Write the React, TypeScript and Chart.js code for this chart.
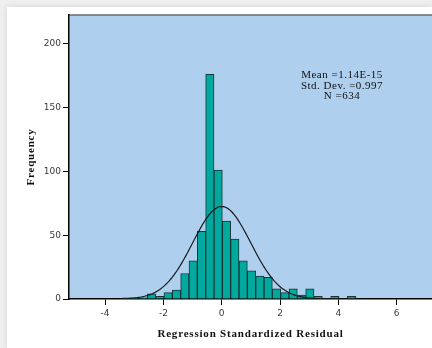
import React, { useEffect, useRef } from "react";
import { Chart, registerables } from "chart.js";

Chart.register(...registerables);

// Histogram bins (centres of bins, width ~0.2857) and counts
const binCenters = [
  -3.264, -2.979, -2.693, -2.407, -2.121, -1.836, -1.55, -1.264, -0.979, -0.693,
  -0.407, -0.121, 0.164, 0.45, 0.736, 1.021, 1.307, 1.593, 1.879, 2.164,
  2.45, 2.736, 3.021, 3.307, 3.593, 3.879, 4.164, 4.45,
];
const frequencies = [
  1, 1, 1, 4, 2, 5, 7, 20, 30, 53,
  176, 101, 61, 47, 30, 22, 18, 17, 8, 5,
  8, 3, 8, 2, 0, 2, 0, 2,
];

const BIN_WIDTH = 0.2857;
const MEAN = 1.14e-15;
const SD = 0.997;
const N = 634;

const xTicks = [-4, -2, 0, 2, 4, 6];
const yTicks = [0, 50, 100, 150, 200];
const X_MIN = -5.235;
const X_MAX = 7.209;
const Y_MAX = 222.5;

const statsLines = ["Mean =1.14E-15", "Std. Dev. =0.997", "N =634"];
const xTitle = "Regression Standardized Residual";
const yTitle = "Frequency";

// Normal curve derived from the stated mean / sd / N and bin width
const curveRange = [-3.45, 4.6];
function normalCurve() {
  const pts: { x: number; y: number }[] = [];
  const steps = 200;
  for (let i = 0; i <= steps; i++) {
    const x = curveRange[0] + ((curveRange[1] - curveRange[0]) * i) / steps;
    const z = (x - MEAN) / SD;
    const y = (N * BIN_WIDTH) / (SD * Math.sqrt(2 * Math.PI)) * Math.exp(-0.5 * z * z);
    pts.push({ x, y });
  }
  return pts;
}

const bgPlugin = {
  id: "plotBg",
  beforeDraw(chart: any) {
    const { ctx, chartArea } = chart;
    ctx.save();
    ctx.fillStyle = "rgb(174,207,237)";
    ctx.fillRect(chartArea.left, chartArea.top, chartArea.right - chartArea.left, chartArea.bottom - chartArea.top);
    ctx.strokeStyle = "#6b6b6b";
    ctx.lineWidth = 1.5;
    ctx.beginPath();
    ctx.moveTo(chartArea.left, chartArea.top);
    ctx.lineTo(chartArea.right, chartArea.top);
    ctx.stroke();
    ctx.restore();
  },
};

const textPlugin = {
  id: "texts",
  afterDraw(chart: any) {
    const { ctx, chartArea } = chart;
    ctx.save();
    ctx.fillStyle = "#111";
    ctx.textAlign = "center";
    ctx.textBaseline = "alphabetic";
    try { (ctx as any).letterSpacing = "0.5px"; } catch (e) {}
    ctx.font = '11px "Liberation Serif", "Times New Roman", serif';
    statsLines.forEach((t, i) => ctx.fillText(t, 342, 78 + i * 10.5));
    try { (ctx as any).letterSpacing = "0.8px"; } catch (e) {}
    ctx.font = 'bold 11px "Liberation Serif", "Times New Roman", serif';
    ctx.fillText(xTitle, (chartArea.left + chartArea.right) / 2, 337);
    ctx.translate(34, (chartArea.top + chartArea.bottom) / 2);
    ctx.rotate(-Math.PI / 2);
    ctx.fillText(yTitle, 0, 0);
    ctx.restore();
  },
};

export default function App() {
  const ref = useRef<HTMLCanvasElement | null>(null);
  useEffect(() => {
    if (!ref.current) return;
    const tickFont = { family: '"DejaVu Sans", sans-serif', size: 9 };
    const chart = new Chart(ref.current, {
      type: "bar",
      data: {
        datasets: [
          {
            type: "line",
            data: normalCurve(),
            borderColor: "#1a1a1a",
            borderWidth: 1.2,
            pointRadius: 0,
            fill: false,
            tension: 0,
            order: 0,
          } as any,
          {
            type: "bar",
            data: binCenters.map((x, i) => ({ x, y: frequencies[i] })),
            backgroundColor: "rgb(0,168,158)",
            borderColor: "#173737",
            borderWidth: 1,
            barPercentage: 1,
            categoryPercentage: 1,
            order: 1,
          } as any,
        ],
      },
      options: {
        responsive: false,
        animation: false,
        devicePixelRatio: 1,
        layout: { padding: { left: 0, top: 15, right: 0, bottom: 0 } },
        plugins: { legend: { display: false }, tooltip: { enabled: false } },
        scales: {
          x: {
            type: "linear",
            min: X_MIN,
            max: X_MAX,
            offset: false,
            grid: { offset: false, drawOnChartArea: false, drawTicks: true, tickLength: 6, tickColor: "#000", tickWidth: 1 },
            border: { display: true, color: "#000", width: 1.5 },
            ticks: { font: tickFont, color: "#3a3a3a", padding: 3, maxRotation: 0, autoSkip: false },
            afterBuildTicks: (s: any) => { s.ticks = xTicks.map((v) => ({ value: v })); },
            afterFit: (s: any) => { s.height = 49; },
          },
          y: {
            type: "linear",
            min: 0,
            max: Y_MAX,
            grid: { drawOnChartArea: false, drawTicks: true, tickLength: 6, tickColor: "#000", tickWidth: 1 },
            border: { display: true, color: "#000", width: 1.5 },
            ticks: { font: tickFont, color: "#3a3a3a", padding: 2, autoSkip: false },
            afterBuildTicks: (s: any) => { s.ticks = yTicks.map((v) => ({ value: v })); },
            afterFit: (s: any) => { s.width = 69; },
          },
        } as any,
      },
      plugins: [bgPlugin, textPlugin],
    });
    return () => chart.destroy();
  }, []);

  return (
    <div style={{ position: "fixed", left: 0, top: 0, width: 432, height: 348, background: "#efefef", overflow: "hidden" }}>
      <div style={{ position: "absolute", left: 7, top: 7, right: 0, bottom: 0, background: "#fff", boxShadow: "0 0 6px rgba(0,0,0,0.12)" }} />
      <canvas ref={ref} width={432} height={348} style={{ position: "absolute", left: 0, top: 0 }} />
    </div>
  );
}
